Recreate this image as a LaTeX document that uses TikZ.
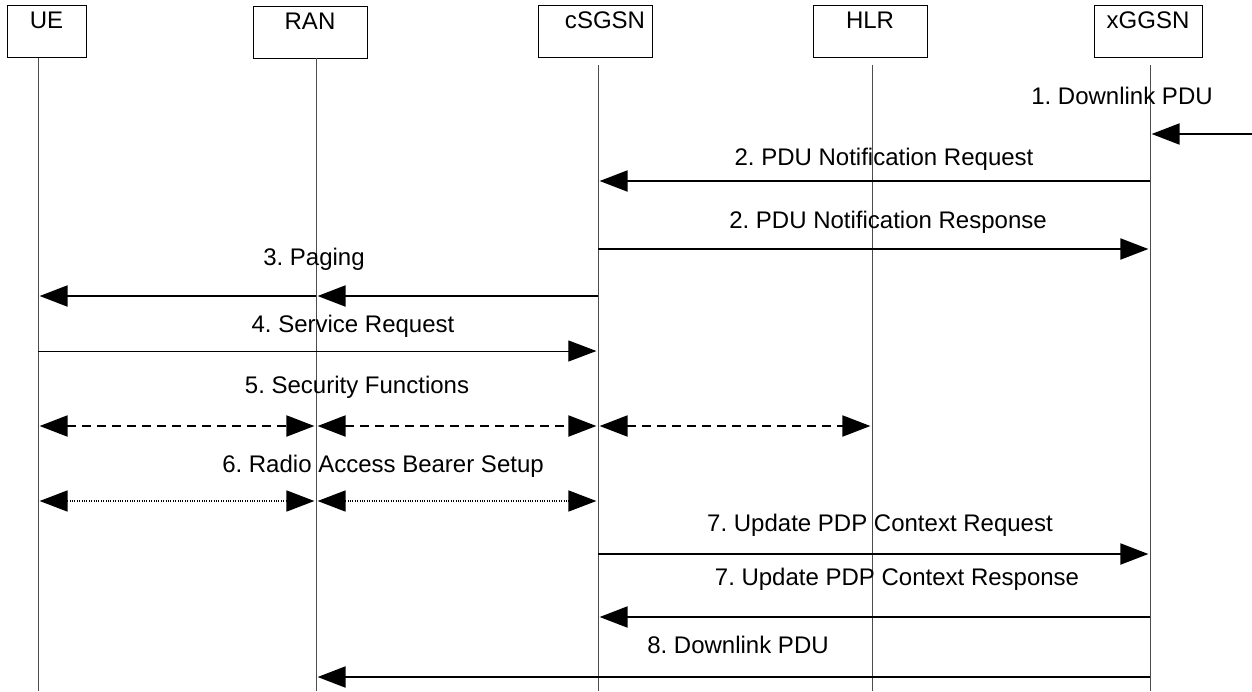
\documentclass[tikz,border=0pt]{standalone}
\usepackage{fontspec}
\setmainfont{Liberation Sans}
\usetikzlibrary{arrows.meta}

\begin{document}
\frenchspacing
\begin{tikzpicture}[
  x=0.5pt, y=-0.5pt,
  font=\fontsize{12}{14}\selectfont,
  ent/.style={draw, line width=0.5pt, minimum height=26pt, inner sep=0pt},
  entlbl/.style={anchor=north, inner sep=3.5pt},
  life/.style={line width=0.5pt, black!70},
  msg/.style={-{Triangle[length=14pt,width=10.5pt]}, line width=1pt, shorten >=0.8pt},
  msgthin/.style={msg, line width=0.5pt},
  both/.style={{Triangle[length=14pt,width=10.5pt]}-{Triangle[length=14pt,width=10.5pt]}, line width=1pt, shorten >=0.8pt, shorten <=0.8pt},
  sec/.style={both, dash pattern=on 4.5pt off 3pt},
  rab/.style={both, line width=0.8pt, dash pattern=on 0.5pt off 0.7pt},
  lbl/.style={inner sep=0pt},
]
\useasboundingbox (0,0) rectangle (1252,691);

% entities
\node[ent, minimum width=39.5pt, label={[entlbl]north:UE}] (ue) at (46.5,31) {};
\node[ent, minimum width=57pt, label={[entlbl]north:RAN}] (ran) at (310,32) {};
\node[ent, minimum width=57pt, label={[entlbl, xshift=5pt]north:cSGSN}] (sgsn) at (595,31) {};
\node[ent, minimum width=57pt, label={[entlbl]north:HLR}] (hlr) at (870,31) {};
\node[ent, minimum width=54pt, label={[entlbl]north:xGGSN}] (ggsn) at (1148,31) {};

% lifelines
\coordinate (ueL) at (38,58);
\coordinate (ranL) at (316,58);
\coordinate (sgsnL) at (598,65);
\coordinate (hlrL) at (872,65);
\coordinate (ggsnL) at (1150,65);
\coordinate (bot) at (0,691);
\foreach \n in {ueL,ranL,sgsnL,hlrL,ggsnL}
  \draw[life] (\n) -- (\n |- bot);

% message rows
\foreach \r/\y in {m1/134, m2/181, m2b/249, m3/296, m4/351, m5/426, m6/501, m7/554, m7b/617, m8/677}
  \coordinate (\r) at (0,\y);
\coordinate (ext) at (1252,134);

\draw[msg] (ext) -- (ggsnL |- m1);
\node[lbl] (t1) at (1122,96) {1. Downlink PDU};

\draw[msg] (ggsnL |- m2) -- (sgsnL |- m2);
\node[lbl] (t2) at (884,159) {2. PDU Notification Request};

\draw[msg] (sgsnL |- m2b) -- (ggsnL |- m2b);
\node[lbl] (t2b) at (888,222) {2. PDU Notification Response};

\draw[msg] (sgsnL |- m3) -- (ranL |- m3);
\draw[msg] (ranL |- m3) -- (ueL |- m3);
\node[lbl] (t3) at (314,259) {3. Paging};

\draw[msgthin] (ueL |- m4) -- (sgsnL |- m4);
\node[lbl] (t4) at (353,326) {4. Service Request};

\draw[sec] (ueL |- m5) -- (ranL |- m5);
\draw[sec] (ranL |- m5) -- (sgsnL |- m5);
\draw[sec] (sgsnL |- m5) -- (hlrL |- m5);
\node[lbl] (t5) at (357,387) {5. Security Functions};

\draw[rab] (ueL |- m6) -- (ranL |- m6);
\draw[rab] (ranL |- m6) -- (sgsnL |- m6);
\node[lbl] (t6) at (383,466) {6. Radio Access Bearer Setup};

\draw[msg] (sgsnL |- m7) -- (ggsnL |- m7);
\node[lbl] (t7) at (880,525) {7. Update PDP Context Request};

\draw[msg] (ggsnL |- m7b) -- (sgsnL |- m7b);
\node[lbl] (t7b) at (897,579) {7. Update PDP Context Response};

\draw[msg] (ggsnL |- m8) -- (ranL |- m8);
\node[lbl] (t8) at (738,645) {8. Downlink PDU};
\end{tikzpicture}
\end{document}
